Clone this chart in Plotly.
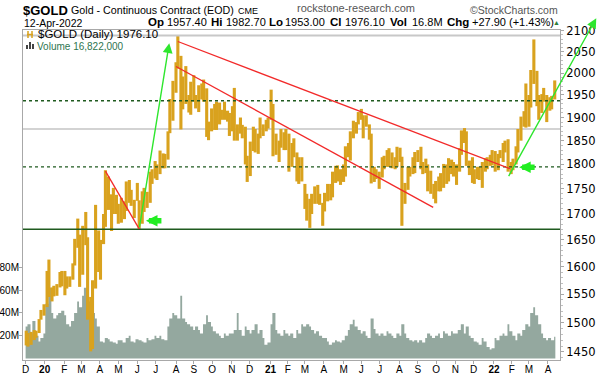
import numpy as np
import pandas as pd
import plotly.graph_objects as go

# ---------------- data (3-trading-day bins) ----------------
low = [
    1461, 1459, 1462, 1470, 1474, 1482, 1505, 1512,        # Dec-19
    1527, 1545, 1537, 1546, 1547, 1562, 1564,              # Jan-20
    1548, 1560, 1563, 1576, 1602, 1635, 1563,              # Feb-20
    1585, 1640, 1505, 1451, 1455, 1560, 1590,              # Mar-20
    1576, 1642, 1675, 1708, 1667, 1700, 1700, 1681,        # Apr-20
    1683, 1690, 1706, 1722, 1716, 1692, 1726,              # May-20
    1671, 1681, 1704, 1712, 1722, 1760, 1771,              # Jun-20
    1768, 1780, 1792, 1792, 1810, 1866, 1893, 1955,        # Jul-20
    2010, 1874, 1918, 1930, 1911, 1906, 1935,              # Aug-20
    1920, 1912, 1940, 1935, 1858, 1851, 1870,              # Sep-20
    1873, 1873, 1885, 1895, 1895, 1891, 1860,              # Oct-20
    1870, 1850, 1850, 1865, 1855, 1800, 1764,              # Nov-20
    1776, 1828, 1825, 1822, 1855, 1860, 1870, 1876,        # Dec-20
    1895, 1817, 1820, 1805, 1835, 1830, 1830,              # Jan-21
    1785, 1795, 1815, 1765, 1760, 1765, 1710,              # Feb-21
    1687, 1673, 1700, 1720, 1720, 1718, 1677,              # Mar-21
    1705, 1725, 1727, 1733, 1762, 1765, 1758, 1764,        # Apr-21
    1775, 1815, 1808, 1855, 1865, 1885, 1895,              # May-21
    1855, 1880, 1852, 1761, 1764, 1770, 1750,              # Jun-21
    1773, 1790, 1795, 1795, 1792, 1790, 1795,              # Jul-21
    1805, 1677, 1720, 1748, 1775, 1780, 1782, 1805,        # Aug-21
    1790, 1780, 1782, 1745, 1740, 1730, 1721,              # Sep-21
    1745, 1745, 1752, 1760, 1765, 1780, 1775,              # Oct-21
    1758, 1785, 1820, 1845, 1797, 1778, 1762,              # Nov-21
    1760, 1770, 1768, 1752, 1785, 1790, 1797, 1798,        # Dec-21
    1785, 1788, 1813, 1805, 1825, 1785, 1780,              # Jan-22
    1788, 1800, 1825, 1850, 1880, 1878, 1880,              # Feb-22
    1922, 1975, 1925, 1895, 1910, 1935, 1890,              # Mar-22
    1915, 1918, 1940,                                      # Apr-22
]
high = [
    1486, 1482, 1484, 1487, 1486, 1506, 1522, 1532,        # Dec-19
    1592, 1613, 1562, 1565, 1568, 1590, 1592,              # Jan-20
    1592, 1582, 1582, 1606, 1652, 1691, 1660,              # Feb-20
    1677, 1704, 1655, 1545, 1575, 1718, 1668,              # Mar-20
    1650, 1700, 1788, 1775, 1739, 1752, 1738, 1720,        # Apr-20
    1732, 1725, 1765, 1768, 1748, 1728, 1762,              # May-20
    1727, 1745, 1752, 1744, 1785, 1790, 1807,              # Jun-20
    1800, 1829, 1823, 1822, 1870, 1941, 1982, 2025,        # Jul-20
    2089, 2040, 1992, 2016, 1950, 1980, 1995,              # Aug-20
    1950, 1972, 1976, 1985, 1965, 1891, 1920,              # Sep-20
    1930, 1935, 1933, 1917, 1935, 1915, 1910,              # Oct-20
    1925, 1966, 1885, 1900, 1884, 1880, 1818,              # Nov-20
    1848, 1880, 1875, 1865, 1900, 1885, 1895, 1900,        # Dec-20
    1962, 1930, 1865, 1850, 1875, 1868, 1875,              # Jan-21
    1865, 1845, 1855, 1825, 1815, 1815, 1760,              # Feb-21
    1740, 1730, 1740, 1755, 1758, 1740, 1722,              # Mar-21
    1742, 1760, 1760, 1785, 1797, 1798, 1790, 1800,        # Apr-21
    1838, 1845, 1870, 1893, 1890, 1912, 1919,              # May-21
    1905, 1905, 1885, 1865, 1795, 1790, 1785,              # Jun-21
    1815, 1818, 1830, 1834, 1825, 1815, 1837,              # Jul-21
    1835, 1816, 1762, 1795, 1795, 1815, 1826, 1830,        # Aug-21
    1837, 1805, 1812, 1800, 1787, 1760, 1766,              # Sep-21
    1775, 1782, 1801, 1800, 1813, 1810, 1805,              # Oct-21
    1800, 1834, 1872, 1877, 1870, 1808, 1815,              # Nov-21
    1790, 1795, 1795, 1805, 1813, 1815, 1820, 1830,        # Dec-21
    1828, 1822, 1830, 1845, 1850, 1853, 1805,              # Jan-22
    1812, 1838, 1875, 1902, 1914, 1976, 1950,              # Feb-22
    2007, 2079, 2005, 1950, 1952, 1966, 1950,              # Mar-22
    1945, 1948, 1983,                                      # Apr-22
]
volume_m = [
    28, 30, 22, 33, 20, 15, 18, 22,        # Dec-19
    48, 62, 40, 35, 38, 40, 42,            # Jan-20
    38, 30, 28, 33, 40, 50, 45,            # Feb-20
    55, 62, 50, 45, 40, 35, 28,            # Mar-20
    15, 14, 18, 17, 15, 14, 13, 16,        # Apr-20
    16, 14, 18, 20, 15, 14, 17,            # May-20
    16, 15, 14, 18, 16, 17, 20,            # Jun-20
    18, 20, 17, 16, 28, 35, 40, 38,        # Jul-20
    35, 55, 35, 32, 30, 28, 25,            # Aug-20
    28, 25, 22, 30, 38, 32, 28,            # Sep-20
    24, 22, 20, 18, 22, 20, 22,            # Oct-20
    22, 25, 40, 25, 20, 28, 25,            # Nov-20
    22, 25, 30, 22, 25, 18, 12, 14,        # Dec-20
    30, 40, 25, 22, 20, 25, 22,            # Jan-21
    20, 22, 18, 25, 22, 30, 28,            # Feb-21
    30, 28, 25, 22, 24, 20, 18,            # Mar-21
    18, 15, 12, 14, 16, 15, 14, 16,        # Apr-21
    20, 25, 30, 34, 28, 25, 22,            # May-21
    24, 20, 18, 35, 26, 22, 20,            # Jun-21
    22, 20, 24, 22, 20, 18, 22,            # Jul-21
    20, 30, 22, 18, 16, 15, 16, 14,        # Aug-21
    16, 14, 18, 22, 20, 18, 20,            # Sep-21
    22, 18, 24, 22, 20, 24, 22,            # Oct-21
    22, 25, 30, 22, 28, 20, 18,            # Nov-21
    15, 14, 12, 18, 15, 10, 8, 9,          # Dec-21
    18, 16, 20, 22, 20, 30, 24,            # Jan-22
    20, 16, 22, 20, 25, 30, 28,            # Feb-22
    40, 45, 38, 30, 22, 18, 16,            # Mar-22
    18, 16, 19,                            # Apr-22
]

month_ticks = ['2019-12-02', '2020-01-02', '2020-02-03', '2020-03-02', '2020-04-01', '2020-05-01',
               '2020-06-01', '2020-07-01', '2020-08-03', '2020-09-01', '2020-10-01', '2020-11-02',
               '2020-12-01', '2021-01-04', '2021-02-01', '2021-03-01', '2021-04-01', '2021-05-03',
               '2021-06-01', '2021-07-01', '2021-08-02', '2021-09-01', '2021-10-01', '2021-11-01',
               '2021-12-01', '2022-01-03', '2022-02-01', '2022-03-01', '2022-04-01']
month_labels = ['D', '<b>20</b>', 'F', 'M', 'A', 'M', 'J', 'J', 'A', 'S', 'O', 'N', 'D', '<b>21</b>',
                'F', 'M', 'A', 'M', 'J', 'J', 'A', 'S', 'O', 'N', 'D', '<b>22</b>', 'F', 'M', 'A']
price_ticks = [1450, 1500, 1550, 1600, 1650, 1700, 1750, 1800, 1850, 1900, 1950, 2000, 2050, 2100]
price_minor = list(range(1440, 2110, 10))
vol_ticks = [20e6, 40e6, 60e6, 80e6]
vol_labels = ['20M', '40M', '60M', '80M']

# annotation lines drawn on the chart (date, price)
red_lines = [(('2020-04-10', 1786), ('2020-06-04', 1671)),
             (('2020-08-06', 2074), ('2022-01-29', 1791)),
             (('2020-08-03', 2015), ('2021-09-26', 1713))]
green_arrow_1 = (('2020-06-04', 1671), ('2020-07-23', 2070))
green_arrow_2 = (('2022-01-27', 1776), ('2022-06-20', 2134))
block_arrows = [('2020-06-15', 1687), ('2022-02-13', 1794)]
dashed_levels = [1937, 1795]
solid_level = 1670.5
gray_level = 1875

# ---------------- build ----------------
bdays = pd.bdate_range('2019-12-02', '2022-04-12')
bar_dates = bdays[1::3]
bin_starts = bdays[::3]
assert len(low) == len(high) == len(volume_m) == len(bar_dates), (len(low), len(high), len(volume_m), len(bar_dates))

X0, X1 = '2019-11-27 18:00', '2022-04-20 14:00'
GOLD = '#D9A21E'
VOLC = '#94A89F'
DKGREEN = '#1F5A1F'
LIME = '#2EE62E'
RED = '#F22A2A'

fig = go.Figure()

vx = [d.strftime('%Y-%m-%d') for d in bin_starts] + [(bdays[-1] + pd.Timedelta(days=1)).strftime('%Y-%m-%d')]
vy = [v * 1e6 for v in volume_m] + [volume_m[-1] * 1e6]
fig.add_trace(go.Scatter(x=vx, y=vy, mode='lines', line=dict(width=0, color=VOLC, shape='hv'),
                         fill='tozeroy', fillcolor=VOLC, yaxis='y', hoverinfo='skip'))

fig.add_trace(go.Scatter(x=[X0, X1], y=[gray_level] * 2, mode='lines',
                         line=dict(color='#C4C4C4', width=1.5), yaxis='y2'))

px_, py_ = [], []
for d, lo, hi in zip(bar_dates, low, high):
    s = d.strftime('%Y-%m-%d')
    px_ += [s, s, None]
    py_ += [lo, hi, None]
fig.add_trace(go.Scatter(x=px_, y=py_, mode='lines', line=dict(color=GOLD, width=3.1), yaxis='y2'))

for lv in dashed_levels:
    fig.add_trace(go.Scatter(x=[X0, X1], y=[lv, lv], mode='lines',
                             line=dict(color=DKGREEN, width=1.4, dash='3px,3px'), yaxis='y2'))
fig.add_trace(go.Scatter(x=[X0, X1], y=[solid_level] * 2, mode='lines',
                         line=dict(color=DKGREEN, width=1.5), yaxis='y2'))

for (a, b) in red_lines:
    fig.add_trace(go.Scatter(x=[a[0], b[0]], y=[a[1], b[1]], mode='lines',
                             line=dict(color=RED, width=1.3), yaxis='y2'))

# ---------------- pixel helpers for decorations ----------------
L, R, T, B = 23, 38, 30, 16
W, H = 598, 376
PW, PH = W - L - R, H - T - B


def PX(x):
    return (x - L) / PW


def PY(y):
    return (H - B - y) / PH


anns = []
# green trend arrows
(t1, h1) = green_arrow_1
anns.append(dict(x=h1[0], y=np.log10(h1[1]), xref='x', yref='y2', ax=t1[0], ay=np.log10(t1[1]),
                 axref='x', ayref='y2', text='', showarrow=True, arrowhead=2, arrowsize=1.4,
                 arrowwidth=1.4, arrowcolor=LIME))
(t2, h2) = green_arrow_2
anns.append(dict(x=t2[0], y=np.log10(t2[1]), xref='x', yref='y2', ax=h2[0], ay=np.log10(h2[1]),
                 axref='x', ayref='y2', text='', showarrow=True, arrowside='start', startarrowhead=2,
                 startarrowsize=1.4, arrowwidth=1.4, arrowcolor=LIME))
for d, p in block_arrows:
    anns.append(dict(x=d, y=np.log10(p), xref='x', yref='y2', ax=17, ay=0, text='', showarrow=True,
                     arrowhead=2, arrowsize=0.42, arrowwidth=5.5, arrowcolor='#22EE22'))

SANS = 'Liberation Sans, Arial, sans-serif'


def txt(text, x, y, size, color='#000', family=SANS, xanchor='left'):
    anns.append(dict(text=text, x=PX(x), y=PY(y), xref='paper', yref='paper', xanchor=xanchor,
                     yanchor='middle', showarrow=False, borderpad=0,
                     font=dict(size=size, color=color, family=family)))


txt('<b>$GOLD</b>', 22, 10, 13)
txt('Gold - Continuous Contract (EOD)', 70, 10, 10.7)
txt('CME', 237, 11, 9)
txt('rockstone-research.com', 296, 7.5, 11, color='#555')
txt('©StockCharts.com', 469, 9.5, 10.5, color='#555')
txt('12-Apr-2022', 23, 22.5, 10.5)
hdr = [('Op', 147, '1957.40', 165.5), ('Hi', 209.5, '1982.70', 225), ('Lo', 268, '1953.00', 284),
       ('Cl', 329, '1976.10', 344), ('Vol', 389, '16.8M', 411), ('Chg', 446, '+27.90 (+1.43%)', 471)]
for lab, lx, val, vxp in hdr:
    txt(f'<b>{lab}</b>', lx, 22, 11.5)
    txt(val, vxp, 22, 11)
txt('▲', 552, 22, 7, color='#2E7D3A')
txt('$GOLD (Daily) 1976.10', 37, 34, 11.5)
txt('Volume 16,822,000', 36, 46.5, 10, color='#2E7550')

shapes = [
    dict(type='line', xref='paper', yref='paper', x0=0, x1=1, y0=PY(35.5), y1=PY(35.5),
         line=dict(color='#C8C8C8', width=2)),
    # legend icons
    dict(type='line', xref='paper', yref='paper', x0=PX(28), x1=PX(28), y0=PY(31), y1=PY(38),
         line=dict(color=GOLD, width=1.5)),
    dict(type='line', xref='paper', yref='paper', x0=PX(32), x1=PX(32), y0=PY(31), y1=PY(38),
         line=dict(color=GOLD, width=1.5)),
    dict(type='line', xref='paper', yref='paper', x0=PX(27), x1=PX(33), y0=PY(34.5), y1=PY(34.5),
         line=dict(color=GOLD, width=1.5)),
    dict(type='rect', xref='paper', yref='paper', x0=PX(26), x1=PX(28), y0=PY(49), y1=PY(45),
         fillcolor='#444', line=dict(width=0)),
    dict(type='rect', xref='paper', yref='paper', x0=PX(29), x1=PX(31), y0=PY(49), y1=PY(42),
         fillcolor='#444', line=dict(width=0)),
    dict(type='rect', xref='paper', yref='paper', x0=PX(32), x1=PX(34), y0=PY(49), y1=PY(44),
         fillcolor='#444', line=dict(width=0)),
]

AX = '#A8A8A8'
fig.update_layout(
    width=W, height=H, autosize=False,
    margin=dict(l=L, r=R, t=T, b=B, pad=0, autoexpand=False),
    paper_bgcolor='white', plot_bgcolor='white',
    showlegend=False,
    font=dict(family=SANS, size=11, color='#000'),
    xaxis=dict(type='date', range=[X0, X1], tickmode='array', tickvals=month_ticks,
               ticktext=month_labels, ticks='outside', ticklen=3, tickcolor=AX,
               showline=True, linecolor=AX, linewidth=1, mirror=True, showgrid=False,
               zeroline=False, automargin=False, ticklabelstandoff=-3,
               tickfont=dict(size=10, family=SANS, color='#000')),
    yaxis=dict(range=[-1.3e6, 288.2e6], side='left', tickmode='array', tickvals=vol_ticks,
               ticktext=vol_labels, ticks='outside', ticklen=3, tickcolor=AX, showline=True,
               linecolor=AX, showgrid=False, zeroline=False, automargin=False,
               ticklabelstandoff=-2,
               tickfont=dict(size=10, family=SANS, color='#000')),
    yaxis2=dict(type='log', range=[3.15735, 3.32257], overlaying='y', side='right',
                tickmode='array', tickvals=price_ticks, ticktext=[str(v) for v in price_ticks],
                ticks='outside', ticklen=3, tickcolor=AX, showline=True, linecolor=AX,
                showgrid=False, zeroline=False, automargin=False,
                minor=dict(tickmode='array', tickvals=price_minor, ticks='outside', ticklen=2,
                           tickcolor='#C0C0C0'),
                tickfont=dict(size=11.5, family='DejaVu Sans, Verdana, sans-serif', color='#000')),
    annotations=anns,
    shapes=shapes,
)

fig.write_html('out.html', config={'displayModeBar': False},
               post_script="document.body.style.margin='0';document.body.style.overflow='hidden';")
